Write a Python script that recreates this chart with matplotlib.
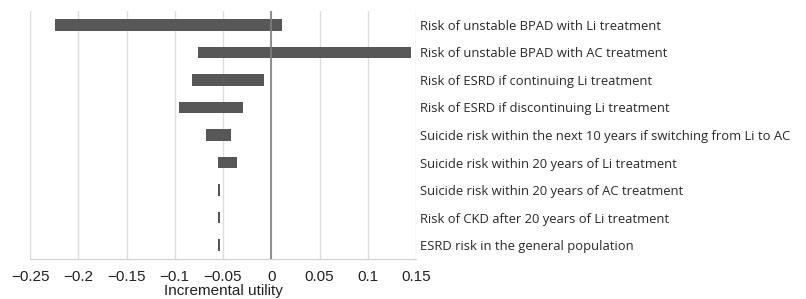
import matplotlib
matplotlib.use("Agg")
import matplotlib.pyplot as plt
import numpy as np

labels = [
    "Risk of unstable BPAD with Li treatment",
    "Risk of unstable BPAD with AC treatment",
    "Risk of ESRD if continuing Li treatment",
    "Risk of ESRD if discontinuing Li treatment",
    "Suicide risk within the next 10 years if switching from Li to AC",
    "Suicide risk within 20 years of Li treatment",
    "Suicide risk within 20 years of AC treatment",
    "Risk of CKD after 20 years of Li treatment",
    "ESRD risk in the general population",
]
low = [-0.224, -0.076, -0.082, -0.096, -0.068, -0.0555, -0.055, -0.055, -0.055]
high = [0.011, 0.145, -0.008, -0.029, -0.042, -0.035, -0.053, -0.053, -0.053]
xticks = [-0.25, -0.2, -0.15, -0.1, -0.05, 0, 0.05, 0.1, 0.15]
xticklabels = ["\u22120.25", "\u22120.2", "\u22120.15", "\u22120.1", "\u22120.05", "0", "0.05", "0.1", "0.15"]

fig = plt.figure(figsize=(8.06, 2.99), dpi=100)
ax = fig.add_axes([30/806, 1-259/299, (416-30)/806, (259-11)/299])

y = np.arange(len(labels))
ax.barh(y, np.array(high)-np.array(low), left=low, height=0.42, color="#575757", zorder=3)
ax.axvline(0, color="#7f7f7f", lw=1.2, zorder=4)

ax.set_xlim(-0.25, 0.15)
ax.set_ylim(len(labels)-0.5, -0.5)
ax.set_xticks(xticks)
ax.set_xticklabels(xticklabels, fontfamily="Liberation Sans", fontsize=11, color="#222222")
ax.tick_params(axis="x", length=0, pad=8)
ax.xaxis.grid(True, color="#dcdcdc", lw=1, zorder=0)
ax.yaxis.tick_right()
ax.set_yticks(y)
ax.set_yticklabels(labels, fontfamily="Open Sans", fontsize=9.4, color="#2a2a2a")
ax.tick_params(axis="y", length=0, pad=3)
for s in ["top", "left", "right"]:
    ax.spines[s].set_visible(False)
ax.spines["bottom"].set_color("#d0d0d0")
ax.set_xlabel("Incremental utility", fontfamily="Liberation Sans", fontsize=11, color="#222222", labelpad=0)

fig.savefig("out.png", dpi=100)
